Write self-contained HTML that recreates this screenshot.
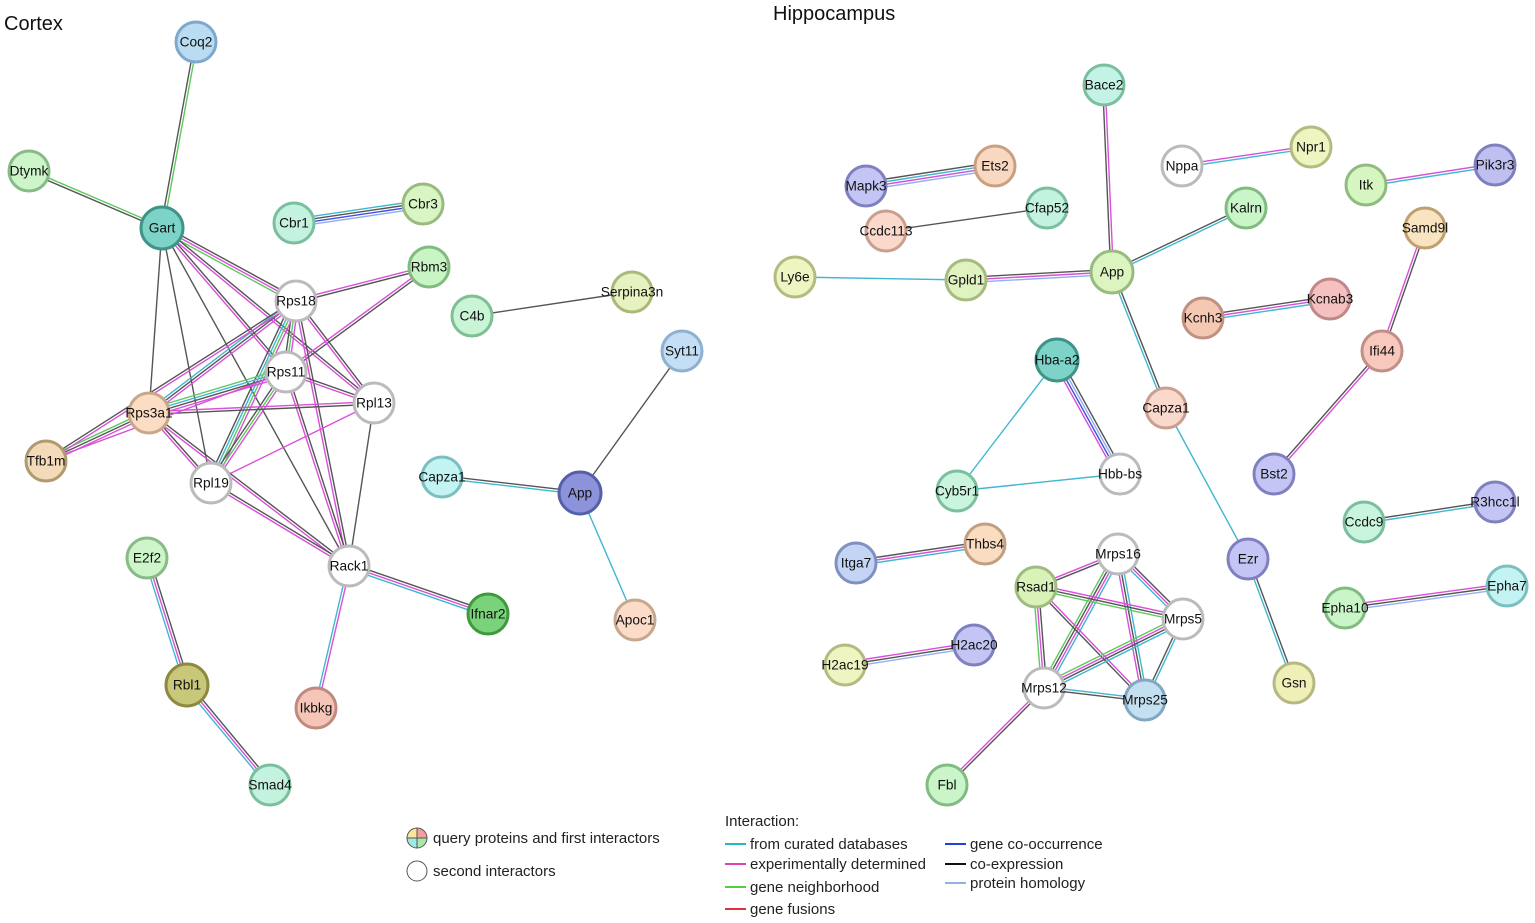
<!DOCTYPE html>
<html><head><meta charset="utf-8"><style>
html,body{margin:0;padding:0;background:#fff;width:1535px;height:923px;overflow:hidden}
svg{display:block}
text{font-family:"Liberation Sans",Arial,sans-serif;}
.n text{font-size:13.7px;fill:#111;text-anchor:middle;dominant-baseline:central}
.lg{font-size:15px;fill:#222}
</style></head><body>
<svg id="s" width="1535" height="923" viewBox="0 0 1535 923">
<g id="edges"></g>
<text x="4" y="30" style="font-size:20px;fill:#111">Cortex</text>
<text x="773" y="20" style="font-size:20px;fill:#111">Hippocampus</text>
<g class="n" id="nodes">
<circle cx="196" cy="42" r="20" fill="#b9dcf2" stroke="#7fa9cc" stroke-width="3"/><text x="196" y="42">Coq2</text>
<circle cx="29" cy="171" r="20" fill="#cdf5c9" stroke="#88bb88" stroke-width="3"/><text x="29" y="171">Dtymk</text>
<circle cx="162" cy="228" r="21" fill="#7dd3c8" stroke="#3f9488" stroke-width="3"/><text x="162" y="228">Gart</text>
<circle cx="294" cy="223" r="20" fill="#c3f2de" stroke="#7cbf9f" stroke-width="3"/><text x="294" y="223">Cbr1</text>
<circle cx="423" cy="204" r="20" fill="#d8f5c3" stroke="#9abb80" stroke-width="3"/><text x="423" y="204">Cbr3</text>
<circle cx="429" cy="267" r="20" fill="#c9f5c4" stroke="#82bb82" stroke-width="3"/><text x="429" y="267">Rbm3</text>
<circle cx="296" cy="301" r="20" fill="#fff" stroke="#bbb" stroke-width="3"/><text x="296" y="301">Rps18</text>
<circle cx="286" cy="372" r="20" fill="#fff" stroke="#bbb" stroke-width="3"/><text x="286" y="372">Rps11</text>
<circle cx="374" cy="403" r="20" fill="#fff" stroke="#bbb" stroke-width="3"/><text x="374" y="403">Rpl13</text>
<circle cx="149" cy="413" r="20" fill="#fcdcc2" stroke="#c9a88a" stroke-width="3"/><text x="149" y="413">Rps3a1</text>
<circle cx="46" cy="461" r="20" fill="#f3dab8" stroke="#b09a70" stroke-width="3"/><text x="46" y="461">Tfb1m</text>
<circle cx="211" cy="483" r="20" fill="#fff" stroke="#bbb" stroke-width="3"/><text x="211" y="483">Rpl19</text>
<circle cx="472" cy="316" r="20" fill="#c9f5d6" stroke="#7fbf94" stroke-width="3"/><text x="472" y="316">C4b</text>
<circle cx="632" cy="292" r="20" fill="#e6f2c0" stroke="#aab97a" stroke-width="3"/><text x="632" y="292">Serpina3n</text>
<circle cx="682" cy="351" r="20" fill="#c4def5" stroke="#8fb0d0" stroke-width="3"/><text x="682" y="351">Syt11</text>
<circle cx="442" cy="477" r="20" fill="#c4f3f3" stroke="#7cbfbf" stroke-width="3"/><text x="442" y="477">Capza1</text>
<circle cx="580" cy="493" r="21" fill="#8c93db" stroke="#5560aa" stroke-width="3"/><text x="580" y="493">App</text>
<circle cx="349" cy="566" r="20" fill="#fff" stroke="#bbb" stroke-width="3"/><text x="349" y="566">Rack1</text>
<circle cx="488" cy="614" r="20" fill="#7ad37a" stroke="#3e9a3e" stroke-width="3"/><text x="488" y="614">Ifnar2</text>
<circle cx="635" cy="620" r="20" fill="#fadcc8" stroke="#c7a78d" stroke-width="3"/><text x="635" y="620">Apoc1</text>
<circle cx="147" cy="558" r="20" fill="#cdf5c9" stroke="#88bb88" stroke-width="3"/><text x="147" y="558">E2f2</text>
<circle cx="187" cy="685" r="21" fill="#c9c77a" stroke="#8c8a40" stroke-width="3"/><text x="187" y="685">Rbl1</text>
<circle cx="316" cy="708" r="20" fill="#f5c5b8" stroke="#c08a80" stroke-width="3"/><text x="316" y="708">Ikbkg</text>
<circle cx="270" cy="785" r="20" fill="#c3f2de" stroke="#7cbf9f" stroke-width="3"/><text x="270" y="785">Smad4</text>
<circle cx="1104" cy="85" r="20" fill="#c3f2e6" stroke="#7cbf9f" stroke-width="3"/><text x="1104" y="85">Bace2</text>
<circle cx="1311" cy="147" r="20" fill="#eef5c0" stroke="#b5bb80" stroke-width="3"/><text x="1311" y="147">Npr1</text>
<circle cx="1182" cy="166" r="20" fill="#fff" stroke="#bbb" stroke-width="3"/><text x="1182" y="166">Nppa</text>
<circle cx="995" cy="166" r="20" fill="#f8d8c0" stroke="#c9a080" stroke-width="3"/><text x="995" y="166">Ets2</text>
<circle cx="866" cy="186" r="20" fill="#c5c5f5" stroke="#8080c0" stroke-width="3"/><text x="866" y="186">Mapk3</text>
<circle cx="1047" cy="208" r="20" fill="#c3f2de" stroke="#7cbf9f" stroke-width="3"/><text x="1047" y="208">Cfap52</text>
<circle cx="1246" cy="208" r="20" fill="#c9f5c9" stroke="#82bb82" stroke-width="3"/><text x="1246" y="208">Kalrn</text>
<circle cx="1366" cy="185" r="20" fill="#d6f5c0" stroke="#90bb80" stroke-width="3"/><text x="1366" y="185">Itk</text>
<circle cx="1495" cy="165" r="20" fill="#c0c0f0" stroke="#8080c0" stroke-width="3"/><text x="1495" y="165">Pik3r3</text>
<circle cx="1425" cy="228" r="20" fill="#f8e4c0" stroke="#c0a070" stroke-width="3"/><text x="1425" y="228">Samd9l</text>
<circle cx="886" cy="231" r="20" fill="#fad8cc" stroke="#c9a090" stroke-width="3"/><text x="886" y="231">Ccdc113</text>
<circle cx="795" cy="277" r="20" fill="#eef5c0" stroke="#b5bb80" stroke-width="3"/><text x="795" y="277">Ly6e</text>
<circle cx="966" cy="280" r="20" fill="#e0f2c0" stroke="#a5bb80" stroke-width="3"/><text x="966" y="280">Gpld1</text>
<circle cx="1112" cy="272" r="21" fill="#dcf5c0" stroke="#98bb80" stroke-width="3"/><text x="1112" y="272">App</text>
<circle cx="1203" cy="318" r="20" fill="#f5c8b4" stroke="#c09080" stroke-width="3"/><text x="1203" y="318">Kcnh3</text>
<circle cx="1330" cy="299" r="20" fill="#f5c0c0" stroke="#c08888" stroke-width="3"/><text x="1330" y="299">Kcnab3</text>
<circle cx="1382" cy="351" r="20" fill="#f9c8bc" stroke="#c09088" stroke-width="3"/><text x="1382" y="351">Ifi44</text>
<circle cx="1057" cy="360" r="21" fill="#7dd3c8" stroke="#3f9488" stroke-width="3"/><text x="1057" y="360">Hba-a2</text>
<circle cx="1166" cy="408" r="20" fill="#fad8cc" stroke="#c9a090" stroke-width="3"/><text x="1166" y="408">Capza1</text>
<circle cx="1120" cy="474" r="20" fill="#fff" stroke="#bbb" stroke-width="3"/><text x="1120" y="474">Hbb-bs</text>
<circle cx="957" cy="491" r="20" fill="#c9f5de" stroke="#7cbf9f" stroke-width="3"/><text x="957" y="491">Cyb5r1</text>
<circle cx="1274" cy="474" r="20" fill="#c5c5f5" stroke="#8080c0" stroke-width="3"/><text x="1274" y="474">Bst2</text>
<circle cx="1364" cy="522" r="20" fill="#c9f5de" stroke="#7cbf9f" stroke-width="3"/><text x="1364" y="522">Ccdc9</text>
<circle cx="1495" cy="502" r="20" fill="#c5c5f5" stroke="#8080c0" stroke-width="3"/><text x="1495" y="502">R3hcc1l</text>
<circle cx="1248" cy="559" r="20" fill="#c5c5f5" stroke="#8080c0" stroke-width="3"/><text x="1248" y="559">Ezr</text>
<circle cx="856" cy="563" r="20" fill="#c4d4f5" stroke="#8090c0" stroke-width="3"/><text x="856" y="563">Itga7</text>
<circle cx="985" cy="544" r="20" fill="#fadcc0" stroke="#c0a080" stroke-width="3"/><text x="985" y="544">Thbs4</text>
<circle cx="1118" cy="554" r="20" fill="#fff" stroke="#bbb" stroke-width="3"/><text x="1118" y="554">Mrps16</text>
<circle cx="1036" cy="587" r="20" fill="#d8f2b8" stroke="#a0bb80" stroke-width="3"/><text x="1036" y="587">Rsad1</text>
<circle cx="1183" cy="619" r="20" fill="#fff" stroke="#bbb" stroke-width="3"/><text x="1183" y="619">Mrps5</text>
<circle cx="1507" cy="586" r="20" fill="#c4f3f3" stroke="#7cbfbf" stroke-width="3"/><text x="1507" y="586">Epha7</text>
<circle cx="1345" cy="608" r="20" fill="#c9f5c9" stroke="#82bb82" stroke-width="3"/><text x="1345" y="608">Epha10</text>
<circle cx="974" cy="645" r="20" fill="#c5c5f5" stroke="#8080c0" stroke-width="3"/><text x="974" y="645">H2ac20</text>
<circle cx="845" cy="665" r="20" fill="#eef5c0" stroke="#b5bb80" stroke-width="3"/><text x="845" y="665">H2ac19</text>
<circle cx="1044" cy="688" r="20" fill="#fff" stroke="#bbb" stroke-width="3"/><text x="1044" y="688">Mrps12</text>
<circle cx="1145" cy="700" r="20" fill="#c4e0f0" stroke="#80a8c0" stroke-width="3"/><text x="1145" y="700">Mrps25</text>
<circle cx="1294" cy="683" r="20" fill="#eef0b8" stroke="#b5b880" stroke-width="3"/><text x="1294" y="683">Gsn</text>
<circle cx="947" cy="785" r="20" fill="#c9f5c9" stroke="#82bb82" stroke-width="3"/><text x="947" y="785">Fbl</text>
</g>
<g>
<path d="M417 838 L417 828 A10 10 0 0 0 407 838Z" fill="#fbe59a"/>
<path d="M417 838 L427 838 A10 10 0 0 0 417 828Z" fill="#f5a0a0"/>
<path d="M417 838 L407 838 A10 10 0 0 0 417 848Z" fill="#a0e8e0"/>
<path d="M417 838 L417 848 A10 10 0 0 0 427 838Z" fill="#a8e8a8"/>
<line x1="407" y1="838" x2="427" y2="838" stroke="#555"/><line x1="417" y1="828" x2="417" y2="848" stroke="#555"/>
<circle cx="417" cy="838" r="10" fill="none" stroke="#555" stroke-width="1"/>
<text class="lg" x="433" y="843">query proteins and first interactors</text>
<circle cx="417" cy="871" r="10" fill="#fff" stroke="#555" stroke-width="1"/>
<text class="lg" x="433" y="876">second interactors</text>
<text class="lg" x="725" y="826">Interaction:</text>
<line x1="725" y1="844" x2="746" y2="844" stroke="#27b5cc" stroke-width="2"/><text class="lg" x="750" y="849">from curated databases</text>
<line x1="725" y1="864" x2="746" y2="864" stroke="#e040c0" stroke-width="2"/><text class="lg" x="750" y="869">experimentally determined</text>
<line x1="725" y1="887" x2="746" y2="887" stroke="#50d040" stroke-width="2"/><text class="lg" x="750" y="892">gene neighborhood</text>
<line x1="725" y1="909" x2="746" y2="909" stroke="#e03040" stroke-width="2"/><text class="lg" x="750" y="914">gene fusions</text>
<line x1="945" y1="844" x2="966" y2="844" stroke="#2040e0" stroke-width="2"/><text class="lg" x="970" y="849">gene co-occurrence</text>
<line x1="945" y1="864" x2="966" y2="864" stroke="#111" stroke-width="2"/><text class="lg" x="970" y="869">co-expression</text>
<line x1="945" y1="883" x2="966" y2="883" stroke="#90b0e8" stroke-width="2"/><text class="lg" x="970" y="888">protein homology</text>
</g>
</svg>
<script>
var P={},C={c:"#3fb7d1",m:"#d94fd9",g:"#5ec95e",k:"#555",b:"#4050e0",h:"#95aef0"};
var cs=document.querySelectorAll('#nodes circle'),ts=document.querySelectorAll('#nodes text');
for(var i=0;i<cs.length;i++){var k=ts[i].textContent;if(P[k]&&cs[i].getAttribute('cx')>700)k='H'+k;P[k]=[+cs[i].getAttribute('cx'),+cs[i].getAttribute('cy')];}
var E=[
["Coq2","Gart","gk"],["Dtymk","Gart","gk"],["Cbr1","Cbr3","ckbh"],
["Gart","Rps18","kmg"],["Gart","Rps11","km"],["Gart","Rpl13","km"],["Gart","Rps3a1","k"],["Gart","Rpl19","k"],["Gart","Rack1","k"],
["Rbm3","Rps18","km"],["Rbm3","Rps11","km"],
["Rps18","Rps11","mgk"],["Rps18","Rpl13","km"],["Rps18","Rps3a1","mkc"],["Rps18","Rpl19","mgck"],["Rps18","Rack1","km"],
["Rps11","Rpl13","km"],["Rps11","Rps3a1","mkcg"],["Rps11","Rpl19","mgk"],["Rps11","Rack1","km"],
["Rpl13","Rps3a1","km"],["Rpl13","Rpl19","m"],["Rpl13","Rack1","k"],
["Rps3a1","Tfb1m","mkg"],["Rps3a1","Rpl19","km"],["Rps3a1","Rack1","km"],["Rpl19","Rack1","km"],
["Rps18","Tfb1m","mk"],["Rps11","Tfb1m","m"],
["Rack1","Ifnar2","kmc"],["Rack1","Ikbkg","mc"],["C4b","Serpina3n","k"],["Syt11","App","k"],["Capza1","App","kc"],["App","Apoc1","c"],
["E2f2","Rbl1","kmc"],["Rbl1","Smad4","kmc"],
["HApp","Bace2","km"],["Nppa","Npr1","mc"],["Mapk3","Ets2","kcmh"],["Ccdc113","Cfap52","k"],["Itk","Pik3r3","mc"],
["Ly6e","Gpld1","c"],["Gpld1","HApp","kmh"],["HApp","Kalrn","kc"],["HApp","HCapza1","kc"],["HCapza1","Ezr","c"],["Ezr","Gsn","kc"],
["Kcnh3","Kcnab3","kmc"],["Samd9l","Ifi44","km"],["Ifi44","Bst2","mk"],
["Hba-a2","Hbb-bs","khbm"],["Hba-a2","Cyb5r1","c"],["Cyb5r1","Hbb-bs","c"],
["Ccdc9","R3hcc1l","kc"],["Itga7","Thbs4","kmc"],["Epha10","Epha7","mkh"],["H2ac19","H2ac20","mkh"],
["Mrps16","Rsad1","km"],["Mrps16","Mrps5","kmc"],["Mrps16","Mrps12","cmkg"],["Mrps16","Mrps25","ckm"],
["Rsad1","Mrps5","mkg"],["Rsad1","Mrps12","kmg"],["Rsad1","Mrps25","mk"],
["Mrps5","Mrps12","ckmg"],["Mrps5","Mrps25","ck"],["Mrps12","Mrps25","ck"],["Mrps12","Fbl","km"]
];
var g=document.getElementById('edges'),ns="http://www.w3.org/2000/svg";
E.forEach(function(e){var a=P[e[0]],b=P[e[1]];if(!a||!b)return;var dx=b[0]-a[0],dy=b[1]-a[1],L=Math.hypot(dx,dy),nx=-dy/L,ny=dx/L,n=e[2].length;
for(var j=0;j<n;j++){var o=(j-(n-1)/2)*2.6;var l=document.createElementNS(ns,'line');
l.setAttribute('x1',a[0]+nx*o);l.setAttribute('y1',a[1]+ny*o);l.setAttribute('x2',b[0]+nx*o);l.setAttribute('y2',b[1]+ny*o);
l.setAttribute('stroke',C[e[2][j]]);l.setAttribute('stroke-width','1.4');g.appendChild(l);}});
</script>
</body></html>
